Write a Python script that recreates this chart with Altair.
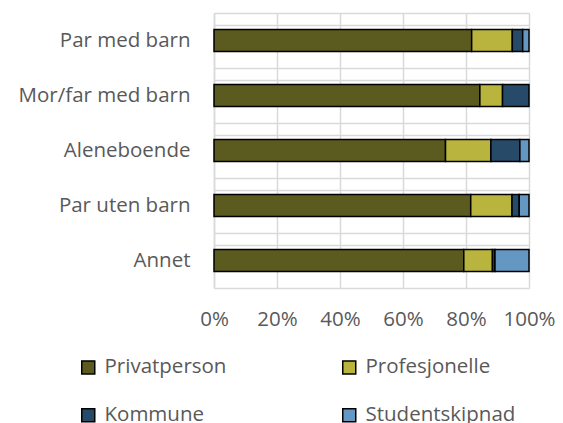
import altair as alt
import pandas as pd

categories = ["Par med barn", "Mor/far med barn", "Aleneboende", "Par uten barn", "Annet"]
series = ["Privatperson", "Profesjonelle", "Kommune", "Studentskipnad"]
privatperson = [81.8, 84.4, 73.5, 81.5, 79.3]
profesjonelle = [12.9, 7.2, 14.4, 13.1, 9.1]
kommune = [3.3, 8.4, 9.2, 2.3, 0.8]
studentskipnad = [2.0, 0.0, 2.9, 3.1, 10.8]
colors = ["#5B5A1F", "#B8B43E", "#264A67", "#6497C1"]
x_ticks = [0, 0.2, 0.4, 0.6, 0.8, 1.0]

rows = []
for si, (name, vals) in enumerate(zip(series, [privatperson, profesjonelle, kommune, studentskipnad])):
    for c, v in zip(categories, vals):
        if v > 0:
            rows.append({"kategori": c, "serie": name, "andel": v / 100.0, "rekkefolge": si})
df = pd.DataFrame(rows)
cat_df = pd.DataFrame({"kategori": categories})

font = "Open Sans"
fs = 20.5
txt = "#595959"
grid = "#d9d9d9"

ycat = alt.Y("kategori:N", sort=categories,
             scale=alt.Scale(paddingInner=0, paddingOuter=0),
             axis=alt.Axis(title=None, ticks=False, labelPadding=24, labelFontSize=fs,
                           labelFont=font, labelColor=txt, domainColor=grid, domainWidth=1.5,
                           grid=True, gridColor=grid, gridWidth=1.5, tickBand="extent"))

bars = alt.Chart(df).mark_bar(size=22, stroke="black", strokeWidth=1.5).encode(
    y=ycat,
    x=alt.X("andel:Q", stack="zero",
            scale=alt.Scale(domain=[0, 1], nice=False),
            axis=alt.Axis(title=None, values=x_ticks, format=".0%", ticks=False, domain=False,
                          labelOverlap=False, labelFlush=False,
                          labelPadding=21, labelFontSize=fs, labelFont=font, labelColor=txt,
                          grid=True, gridColor=grid, gridWidth=1.5)),
    color=alt.Color("serie:N", scale=alt.Scale(domain=series, range=colors),
                    legend=alt.Legend(title=None, orient="none", legendX=-136, legendY=344,
                                      columns=2, direction="horizontal",
                                      columnPadding=112, rowPadding=27,
                                      symbolType="square", symbolSize=169,
                                      symbolStrokeColor="black", symbolStrokeWidth=1.5,
                                      labelFontSize=fs, labelFont=font, labelColor=txt,
                                      labelOffset=6, labelLimit=300)),
    order=alt.Order("rekkefolge:Q"),
)

extra = alt.Chart(cat_df).mark_rule(color=grid, strokeWidth=1.5).encode(
    y=alt.Y("kategori:N", sort=categories),
    yOffset=alt.value(12.5),
)

chart = alt.layer(extra, bars).properties(
    width=315, height=275,
    autosize=alt.AutoSizeParams(type="none"),
    padding={"left": 206, "top": 5, "right": 26, "bottom": 140},
).configure_view(stroke=None)

chart.save("out.html", embed_options={"renderer": "svg", "actions": False})
